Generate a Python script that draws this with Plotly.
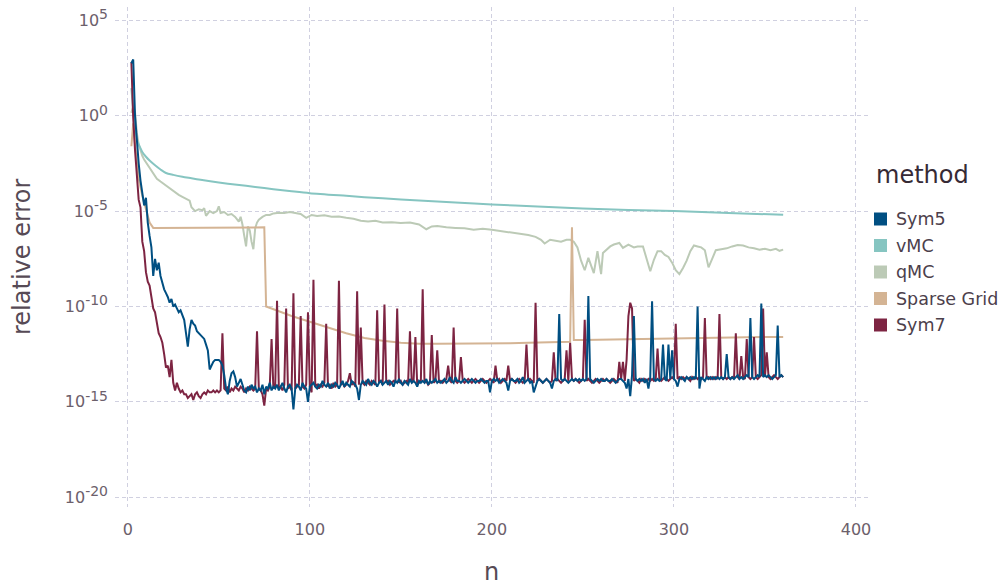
import plotly.graph_objects as go

# ---- data: log10 of the relative error, per method ----
# Sym5 and Sym7 are evaluated at every n = 2..360
sym_n = list(range(2, 361))

sym5_log = [
    2.75, 2.95, 0.0, -1.5, -2.5, -3.4, -4.2, -4.7, -4.3, -5.6,
    -6.3, -6.9, -8.4, -7.5, -8.1, -7.7, -8.4, -8.8, -9.1, -9.3,
    -9.5, -9.8, -9.6, -10.0, -9.9, -10.1, -10.3, -10.2, -10.5, -10.7,
    -11.4, -12.1, -11.2, -10.7, -10.9, -11.0, -11.3, -11.4, -11.5, -11.6,
    -11.7, -12.0, -12.3, -13.3, -13.1, -12.9, -12.8, -12.8, -12.8, -12.9,
    -13.1, -13.6, -14.3, -14.6, -13.9, -13.5, -13.4, -13.7, -14.2, -14.0,
    -13.8, -14.1, -14.4, -14.5, -14.2, -14.4, -14.1, -14.3, -14.2, -14.5,
    -14.3, -14.4, -14.1, -14.6, -14.2, -14.3, -14.0, -14.4, -14.2, -14.3,
    -14.1, -14.4, -14.2, -14.0, -14.3, -14.5, -14.2, -14.1, -14.3, -15.4,
    -14.3, -14.1, -14.2, -14.4, -14.0, -14.2, -14.3, -15.0, -14.2, -14.1,
    -14.0, -14.2, -14.3, -14.1, -14.2, -13.9, -14.1, -14.2, -14.0, -14.3,
    -14.1, -14.2, -14.0, -14.1, -14.3, -14.1, -13.9, -14.2, -14.0, -14.1,
    -14.2, -13.9, -14.0, -14.1, -14.3, -14.9, -14.1, -13.9, -14.0, -14.1,
    -13.8, -14.0, -14.1, -13.9, -14.0, -14.2, -14.0, -13.9, -14.1, -14.0,
    -13.9, -14.1, -13.9, -14.0, -14.2, -13.9, -14.0, -13.8, -14.0, -14.1,
    -13.9, -14.0, -14.1, -13.8, -14.0, -13.9, -14.0, -14.2, -13.9, -14.0,
    -13.9, -14.0, -13.8, -14.1, -13.9, -14.0, -13.9, -13.8, -14.0, -13.9,
    -14.0, -13.9, -13.8, -14.0, -13.9, -13.7, -13.9, -14.0, -13.7, -13.9,
    -13.9, -14.0, -13.9, -13.8, -13.9, -14.0, -13.9, -13.8, -13.9, -14.0,
    -13.9, -13.9, -13.8, -13.9, -14.0, -13.9, -13.9, -14.5, -13.9, -13.8,
    -13.9, -13.8, -14.0, -13.9, -13.8, -13.9, -14.0, -14.4, -13.9, -13.8,
    -13.9, -13.9, -13.8, -14.0, -13.9, -13.7, -14.0, -13.9, -13.8, -14.0,
    -13.9, -14.5, -14.2, -13.9, -13.8, -13.9, -14.0, -13.9, -13.8, -13.9,
    -14.0, -14.3, -13.9, -13.8, -13.9, -10.4, -13.8, -13.9, -13.8, -13.9,
    -14.0, -13.9, -13.8, -13.9, -13.8, -13.9, -13.8, -13.9, -13.8, -13.9,
    -13.8, -9.45, -13.8, -13.9, -14.0, -13.9, -13.8, -13.9, -13.8, -13.9,
    -13.9, -13.8, -13.9, -13.9, -13.8, -13.9, -14.0, -13.9, -13.8, -13.8,
    -13.9, -14.0, -14.3, -13.8, -14.7, -13.6, -10.5, -13.8, -13.9, -13.8,
    -13.9, -13.8, -14.0, -13.8, -14.3, -13.7, -9.73, -13.8, -13.9, -13.8,
    -13.9, -13.8, -12.0, -13.8, -13.9, -12.0, -13.8, -12.3, -13.8, -13.9,
    -14.2, -13.8, -13.7, -13.8, -13.9, -13.7, -13.8, -13.7, -13.8, -13.7,
    -13.8, -10.0, -14.3, -13.7, -13.8, -13.9, -13.7, -13.8, -13.7, -13.8,
    -13.7, -13.8, -13.7, -13.8, -13.7, -13.8, -13.7, -12.5, -13.7, -13.8,
    -13.7, -13.8, -13.7, -13.6, -13.8, -13.7, -13.8, -13.7, -13.6, -13.7,
    -10.6, -13.7, -13.8, -13.7, -13.6, -13.7, -9.85, -13.7, -13.6, -13.7,
    -13.6, -13.7, -13.8, -13.7, -13.6, -11.0, -13.7, -13.6, -13.7,
]

sym7_log = [
    2.8, -0.1, -1.8, -3.2, -4.4, -4.8, -6.6, -7.1, -8.2, -8.7,
    -8.9, -9.5, -10.1, -10.3, -10.9, -11.4, -11.6, -11.9, -12.5, -13.2,
    -13.1, -13.7, -12.8, -14.0, -14.4, -14.0, -14.3, -14.5, -14.4, -14.6,
    -14.6, -14.8, -14.7, -14.6, -14.9, -14.6, -14.5, -14.7, -14.8, -14.6,
    -14.5, -14.6, -14.4, -14.5, -14.5, -14.4, -14.5, -14.4, -14.5, -14.4,
    -11.4, -14.3, -14.4, -14.2, -14.5, -14.3, -14.4, -14.2, -14.3, -14.4,
    -14.2, -14.3, -14.5, -14.3, -14.4, -14.2, -14.3, -14.4, -14.3, -11.3,
    -14.3, -14.4, -14.6, -15.2, -14.3, -14.4, -14.2, -11.7, -14.3, -14.2,
    -9.7, -14.3, -14.2, -14.4, -14.1, -10.1, -14.3, -14.2, -14.4, -9.3,
    -14.3, -14.2, -14.1, -10.5, -14.2, -14.3, -14.1, -10.3, -14.2, -14.5,
    -8.6, -14.2, -14.1, -14.3, -14.1, -14.2, -14.0, -10.9, -14.2, -14.1,
    -14.3, -14.0, -14.2, -14.1, -8.65, -14.1, -14.0, -14.2, -14.1, -13.9,
    -13.5, -14.1, -14.0, -14.2, -9.2, -14.1, -11.1, -14.0, -14.1, -13.9,
    -14.0, -14.1, -13.9, -14.0, -14.1, -10.2, -14.0, -13.9, -14.1, -9.9,
    -14.0, -13.9, -14.1, -14.0, -13.9, -14.0, -10.1, -14.0, -13.9, -14.1,
    -14.0, -13.9, -14.0, -11.3, -14.0, -13.9, -11.6, -14.1, -14.0, -13.9,
    -9.1, -14.0, -13.9, -14.1, -14.0, -11.5, -14.0, -13.9, -12.3, -14.0,
    -13.9, -14.0, -13.9, -13.8, -13.1, -13.9, -14.0, -11.1, -13.9, -14.0,
    -13.9, -12.65, -13.9, -14.0, -13.9, -13.8, -13.9, -14.0, -13.9, -13.8,
    -13.9, -14.0, -13.9, -13.8, -13.9, -14.0, -13.9, -13.8, -13.9, -14.0,
    -13.1, -13.9, -13.8, -14.0, -13.9, -13.8, -13.9, -13.1, -13.9, -13.8,
    -13.9, -14.0, -13.9, -13.8, -13.9, -14.0, -13.9, -12.0, -13.9, -13.8,
    -13.9, -14.0, -9.8, -13.9, -13.8, -13.9, -14.0, -13.9, -13.8, -13.9,
    -14.0, -13.9, -12.4, -13.9, -13.8, -13.9, -14.0, -13.9, -13.8, -12.3,
    -13.9, -11.9, -13.8, -13.9, -13.8, -13.9, -14.0, -13.9, -13.8, -10.7,
    -13.9, -13.8, -13.9, -14.0, -13.9, -13.8, -13.9, -14.0, -13.9, -13.8,
    -13.9, -13.8, -13.9, -14.0, -13.9, -13.8, -13.9, -14.0, -12.9, -13.8,
    -12.9, -13.9, -12.8, -10.5, -9.8, -10.1, -13.9, -13.8, -13.9, -14.0,
    -13.8, -13.9, -13.8, -13.9, -13.8, -13.9, -13.8, -13.9, -13.8, -12.2,
    -13.8, -13.9, -13.8, -13.7, -13.8, -13.9, -13.8, -13.7, -13.8, -10.9,
    -13.8, -13.7, -13.8, -13.7, -13.8, -13.7, -13.8, -13.9, -13.7, -13.8,
    -13.7, -13.8, -13.7, -13.8, -13.7, -10.6, -13.8, -13.7, -13.8, -13.7,
    -13.8, -13.7, -13.8, -10.4, -13.7, -13.8, -13.7, -13.8, -13.7, -13.8,
    -13.7, -13.8, -11.4, -13.7, -13.8, -12.6, -13.7, -13.8, -11.7, -13.7,
    -13.8, -13.7, -11.6, -13.7, -13.8, -13.7, -13.6, -10.1, -13.7, -12.4,
    -13.7, -13.8, -13.7, -13.6, -13.7, -13.8, -13.7, -13.6, -13.7,
]

vmc_n = [2, 3, 4, 5, 6, 7, 8, 10, 12, 15, 18, 21, 25, 30, 35, 40, 50, 60,
         70, 80, 90, 100, 120, 140, 160, 180, 200, 225, 250, 275, 300, 330, 360]
vmc_log = [1.45, 0.3, -0.6, -1.2, -1.5, -1.7, -1.9, -2.15, -2.35, -2.6, -2.82,
           -3.0, -3.1, -3.2, -3.28, -3.36, -3.5, -3.62, -3.73, -3.85, -3.96,
           -4.06, -4.2, -4.33, -4.44, -4.55, -4.65, -4.76, -4.86, -4.94, -5.0,
           -5.1, -5.19]

qmc_n = [2, 3, 4, 5, 6, 7, 8, 9, 10, 12, 14, 16, 18, 20, 22, 24, 26, 28, 30,
         32, 34, 35, 37, 39, 41, 42, 43, 45, 47, 49, 50, 51, 53, 55, 57, 59,
         61, 62, 63, 64, 65, 66, 67, 68, 69, 70, 71, 72, 74, 76, 78, 80, 83,
         86, 89, 92, 95, 98, 101, 104, 108, 112, 116, 120, 124, 128, 132, 136,
         140, 145, 150, 155, 160, 164, 167, 170, 175, 180, 185, 190, 195, 200,
         205, 210, 215, 220, 224, 227, 229, 232, 235, 238, 241, 243, 245, 247,
         249, 251, 253, 254, 256, 258, 260, 261, 263, 265, 267, 270, 272, 275,
         278, 280, 283, 285, 287, 289, 291, 293, 295, 297, 299, 301, 303, 305,
         307, 309, 311, 313, 315, 317, 319, 321, 323, 326, 329, 332, 335, 338,
         341, 344, 347, 350, 353, 356, 358, 360]
qmc_log = [0.15, 0.5, 0.2, -0.9, -1.5, -1.85, -2.1, -2.3, -2.45, -2.7, -3.0,
           -3.3, -3.45, -3.6, -3.75, -3.9, -4.05, -4.15, -4.25, -4.35, -4.45,
           -4.8, -5.0, -4.9, -4.95, -4.85, -5.25, -5.0, -5.1, -5.0, -4.75,
           -5.1, -5.05, -5.2, -5.15, -5.3, -5.55, -5.3, -5.7, -6.3, -6.85,
           -5.8, -6.0, -6.6, -7.0, -5.9, -5.6, -5.45, -5.3, -5.2, -5.2,
           -5.12, -5.08, -5.1, -5.05, -5.1, -5.15, -5.35, -5.2, -5.25, -5.22,
           -5.3, -5.28, -5.35, -5.4, -5.5, -5.55, -5.5, -5.6, -5.58, -5.62,
           -5.6, -5.7, -5.95, -5.8, -5.78, -5.85, -5.88, -5.9, -5.97, -5.92,
           -5.98, -6.05, -6.12, -6.2, -6.25, -6.35, -6.5, -6.7, -6.5, -6.55,
           -6.6, -6.5, -6.5, -6.6, -6.9, -7.6, -8.1, -7.45, -7.7, -8.25,
           -7.1, -8.3, -7.2, -7.0, -6.85, -6.75, -6.67, -6.93, -6.76, -6.9,
           -6.85, -6.85, -7.55, -8.15, -7.55, -7.1, -7.1, -7.3, -7.4, -7.7,
           -8.1, -8.3, -7.98, -7.6, -7.1, -6.8, -6.85, -6.9, -7.05, -7.95,
           -7.5, -7.05, -7.0, -6.95, -6.85, -6.78, -6.8, -6.9, -6.95, -7.02,
           -6.97, -7.05, -6.98, -7.08, -7.02]

sg_n = [2, 3, 4, 5, 6, 8, 10, 12, 14, 20, 30, 40, 50, 60, 70, 75, 76, 80,
        90, 100, 110, 120, 130, 140, 150, 160, 170, 180, 190, 200, 210, 220,
        230, 240, 243, 244, 245, 250, 260, 270, 280, 290, 300, 310, 320, 330,
        340, 350, 360]
sg_log = [-1.6, -0.4, -1.5, -2.5, -3.3, -4.2, -4.9, -5.6, -5.88, -5.88,
          -5.88, -5.87, -5.87, -5.87, -5.86, -5.85, -10.0, -10.15, -10.5,
          -10.8, -11.1, -11.4, -11.65, -11.8, -11.9, -11.95, -11.95, -11.95,
          -11.95, -11.95, -11.93, -11.9, -11.88, -11.86, -11.85, -5.85,
          -11.76, -11.75, -11.73, -11.71, -11.7, -11.68, -11.66, -11.65,
          -11.63, -11.62, -11.61, -11.6, -11.6]

methods = ["Sym5", "vMC", "qMC", "Sparse Grid", "Sym7"]
colors = {
    "Sym5": "#004F82",
    "vMC": "#86C5C1",
    "qMC": "#BCCAB6",
    "Sparse Grid": "#D4B494",
    "Sym7": "#7D2442",
}

series = {
    "Sym5": (sym_n, sym5_log),
    "vMC": (vmc_n, vmc_log),
    "qMC": (qmc_n, qmc_log),
    "Sparse Grid": (sg_n, sg_log),
    "Sym7": (sym_n, sym7_log),
}

# page geometry (pixels)
W, H = 1000, 585
L, R, T, B = 115, 132, 7, 78
plot_w, plot_h = W - L - R, H - T - B


def px_x(x):
    return (x - L) / plot_w


def px_y(y):
    return (H - B - y) / plot_h


fig = go.Figure()

# drawing order: smooth curves underneath, Sym5 on top
for name in ["qMC", "vMC", "Sparse Grid", "Sym7", "Sym5"]:
    xs, logs = series[name]
    shape = "spline" if name == "vMC" else "linear"
    fig.add_trace(go.Scatter(
        x=xs, y=[10 ** v for v in logs], mode="lines", name=name,
        line=dict(color=colors[name], width=2, shape=shape, smoothing=0.8),
        showlegend=False, hoverinfo="skip",
    ))

tick_exps = [5, 0, -5, -10, -15, -20]
grid = dict(showgrid=True, gridcolor="#D0D0E0", gridwidth=1,
            griddash="4px,3px", zeroline=False, showline=False, ticks="")

# colour key on the right: title, square swatches and labels
annotations = [
    dict(text="method", xref="paper", yref="paper",
         x=px_x(874), y=px_y(175), xanchor="left", yanchor="middle",
         showarrow=False, font=dict(size=24, color="#362A35")),
    dict(text="relative error", xref="paper", yref="paper",
         x=px_x(22), y=px_y(257), xanchor="center", yanchor="middle",
         textangle=-90, showarrow=False, font=dict(size=24, color="#564A55")),
    dict(text="n", xref="paper", yref="paper",
         x=px_x(491.5), y=px_y(572), xanchor="center", yanchor="middle",
         showarrow=False, font=dict(size=24, color="#564A55")),
]
shapes = []
for i, name in enumerate(methods):
    cy = 219 + 26.5 * i
    shapes.append(dict(
        type="rect", xref="paper", yref="paper",
        x0=px_x(874), x1=px_x(887), y0=px_y(cy - 6.5), y1=px_y(cy + 6.5),
        fillcolor=colors[name], line=dict(width=0),
    ))
    annotations.append(dict(
        text=name, xref="paper", yref="paper", x=px_x(894), y=px_y(cy),
        xanchor="left", yanchor="middle", showarrow=False,
        font=dict(size=17.5, color="#4C404B"),
    ))

fig.update_layout(
    width=W, height=H,
    margin=dict(l=L, r=R, t=T, b=B),
    paper_bgcolor="white", plot_bgcolor="white",
    showlegend=False,
    font=dict(family="DejaVu Sans", color="#6C606B", size=16),
    xaxis=dict(
        range=[-7.0, 406.6], tickvals=[0, 100, 200, 300, 400],
        tickfont=dict(size=16, color="#6C606B"), ticklabelstandoff=11,
        automargin=False, **grid,
    ),
    yaxis=dict(
        type="log", range=[-20.51, 5.70],
        tickvals=[10.0 ** e for e in tick_exps],
        ticktext=[f"10<sup><span style='font-size:14px'>{e}</span></sup>"
                  for e in tick_exps],
        tickfont=dict(size=16, color="#6C606B"), ticklabelstandoff=6,
        automargin=False, **grid,
    ),
    annotations=annotations,
    shapes=shapes,
)

fig.write_html("out.html")
